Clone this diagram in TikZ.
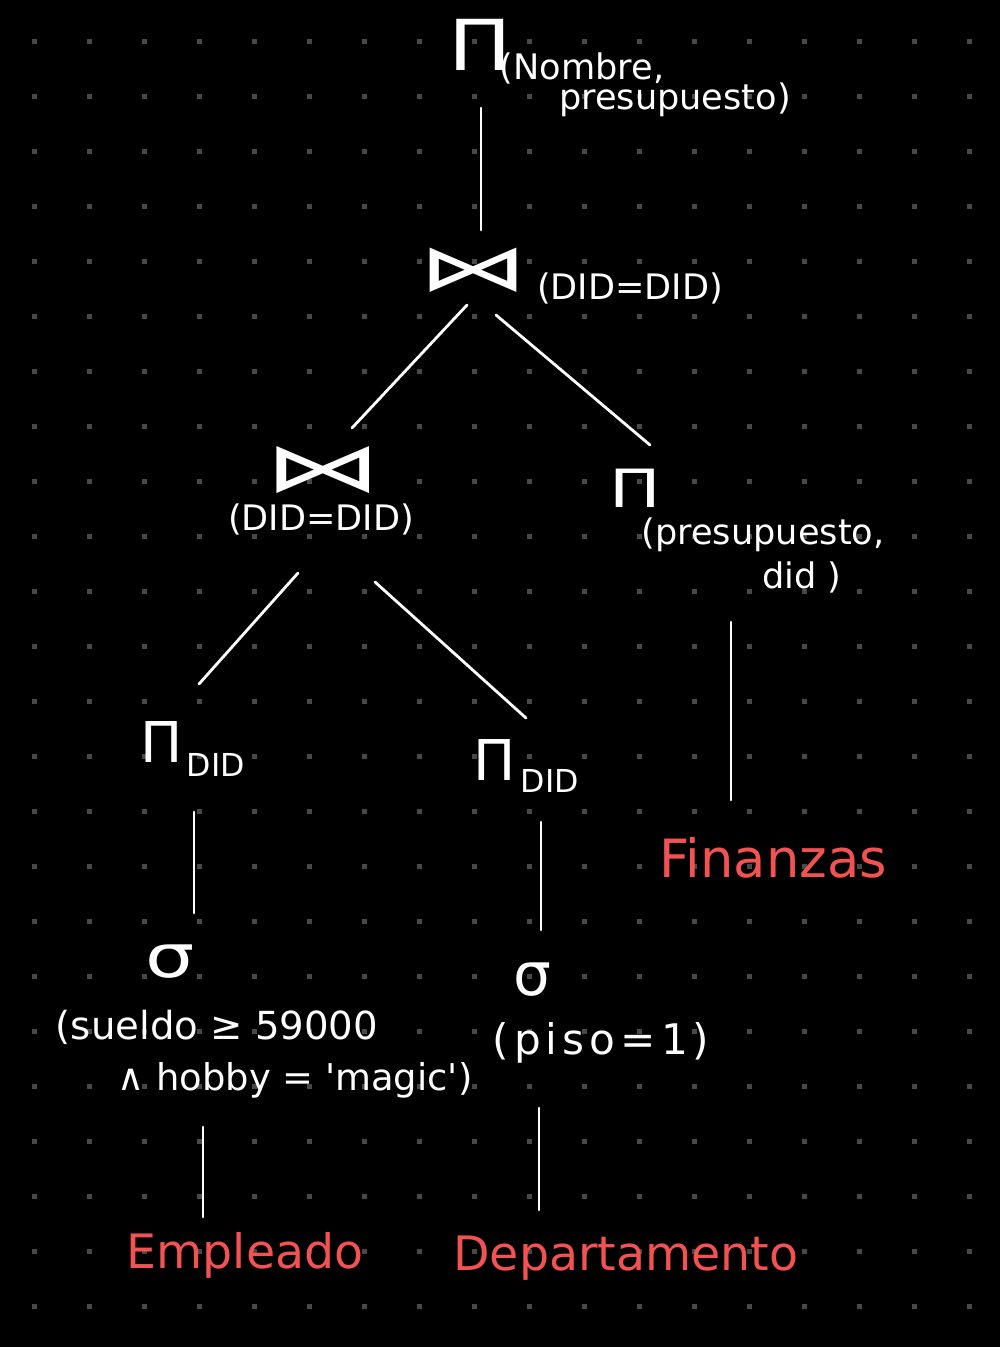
\documentclass[tikz,border=0pt]{standalone}
\usepackage{fontspec}
\setmainfont{DejaVu Sans}
\usepackage{graphicx}

\definecolor{puntogris}{RGB}{72,72,72}
\definecolor{rojotabla}{RGB}{242,82,82}

\tikzset{
  etiqueta/.style={text=white,inner sep=0pt,font=\fontsize{20}{20}\selectfont},
  tabla/.style={text=rojotabla,inner sep=0pt,font=\fontsize{27}{27}\selectfont},
  simbolo/.style={text=white,inner sep=0pt},
  rama/.style={draw=white,line width=1.6pt,line cap=round}
}

\begin{document}
\begin{tikzpicture}[x=0.02cm,y=-0.02cm,line cap=round,line join=round]
        % Fondo y cuadrícula de puntos
        \fill[black] (0,0) rectangle (1000,1347);
        \foreach \i in {0,...,17}
          \foreach \j in {0,...,23}
            \fill[puntogris] (31.5+55*\i,38.5+55*\j) rectangle ++(5,5);

        % Proyección final
        \node[simbolo,font=\fontsize{40}{40}\selectfont] (topPi) at (480,45) {\scalebox{1.2}[1]{Π}};
        \node[etiqueta] (topSubA) at (582,68) {(Nombre,};
        \node[etiqueta] (topSubB) at (675,100) {presupuesto)};

        % Reunión superior
        \node[simbolo] (join1) at (473,270) {\resizebox{2.2cm}{0.85cm}{⋈}};
        \node[etiqueta] (join1Lbl) at (630,288) {(DID=DID)};

        % Reunión inferior
        \node[simbolo] (join2) at (323,470) {\resizebox{2.35cm}{0.9cm}{⋈}};
        \node[etiqueta] (join2Lbl) at (321,519) {(DID=DID)};

        % Proyección sobre Finanzas
        \node[simbolo,font=\fontsize{30}{30}\selectfont] (piR) at (635,488) {\scalebox{1.3}[1]{Π}};
        \node[etiqueta] (piRLblA) at (763,535) {(presupuesto,};
        \node[etiqueta] (piRLblB) at (802,577) {did )};

        % Proyecciones sobre DID
        \node[simbolo,font=\fontsize{32}{32}\selectfont] (piDidL) at (162,742) {Π};
        \node[etiqueta,font=\fontsize{18}{18}\selectfont] (didL) at (216,765) {DID};
        \node[simbolo,font=\fontsize{32}{32}\selectfont] (piDidR) at (495,760) {Π};
        \node[etiqueta,font=\fontsize{18}{18}\selectfont] (didR) at (550,781) {DID};

        % Selecciones
        \node[simbolo,font=\fontsize{34}{34}\selectfont] (sigL) at (170,962) {\scalebox{1.3}[1]{σ}};
        \node[etiqueta,font=\fontsize{22}{22}\selectfont] (sigLLblA) at (217,1027) {(sueldo ≥ 59000};
        \node[etiqueta,font=\fontsize{21}{21}\selectfont] (sigLLblB) at (295,1080) {∧ hobby = \textquotesingle magic\textquotesingle)};
        \node[simbolo,font=\fontsize{34}{34}\selectfont] (sigR) at (532,980) {σ};
        \node[etiqueta,font=\fontsize{24}{24}\selectfont\addfontfeatures{LetterSpace=12}] (sigRLbl) at (601,1043) {(piso=1)};

        % Tablas
        \node[tabla,font=\fontsize{30}{30}\selectfont] (finanzas) at (773,858) {Finanzas};
        \node[tabla] (empleado) at (245,1255) {Empleado};
        \node[tabla] (depto) at (626,1258) {Departamento};

        % Ramas del árbol
        \draw[rama] ([shift={(1,63)}]topPi.center) -- ([shift={(8,-40)}]join1.center);
        \draw[rama] ([shift={(-6,35)}]join1.center) -- ([shift={(29,-42)}]join2.center);
        \draw[rama] ([shift={(23,45)}]join1.center) -- ([shift={(15,-43)}]piR.center);
        \draw[rama] ([shift={(-23,54)}]join2Lbl.center) -- ([shift={(37,-58)}]piDidL.center);
        \draw[rama] ([shift={(54,63)}]join2Lbl.center) -- ([shift={(31,-42)}]piDidR.center);
        \draw[rama] ([shift={(-71,45)}]piRLblB.center) -- ([shift={(-42,-58)}]finanzas.center);
        \draw[rama] ([shift={(32,70)}]piDidL.center) -- ([shift={(24,-49)}]sigL.center);
        \draw[rama] ([shift={(46,62)}]piDidR.center) -- ([shift={(9,-50)}]sigR.center);
        \draw[rama] ([shift={(-92,47)}]sigLLblB.center) -- ([shift={(-42,-38)}]empleado.center);
        \draw[rama] ([shift={(-62,65)}]sigRLbl.center) -- ([shift={(-87,-48)}]depto.center);
\end{tikzpicture}
\end{document}
